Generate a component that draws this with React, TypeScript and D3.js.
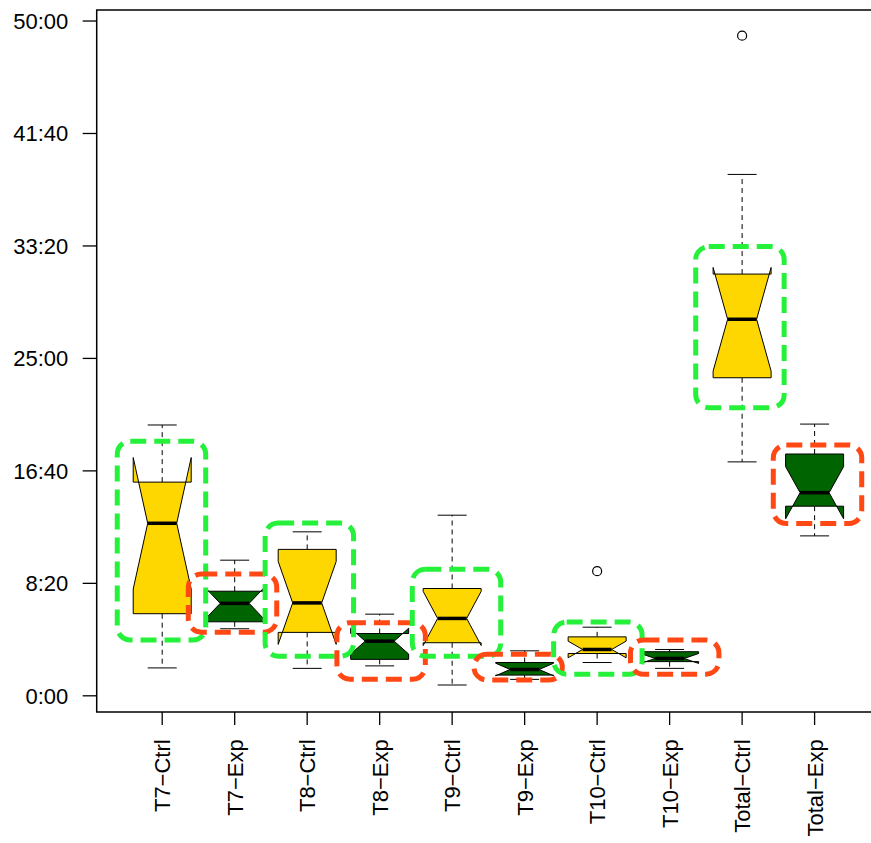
import React from "react";
import * as d3 from "d3";

// group names (R draws the hyphen as a minus sign)
const groups = ["T7−Ctrl", "T7−Exp", "T8−Ctrl", "T8−Exp", "T9−Ctrl", "T9−Exp", "T10−Ctrl", "T10−Exp", "Total−Ctrl", "Total−Exp"];

// five number summaries, in seconds
const whiskerLow = [124, 298, 122, 133, 48, 73, 148, 122, 1040, 711];
const q1 = [365, 329, 282, 162, 236, 92, 188, 152, 1414, 843];
const median = [767, 411, 413, 243, 344, 117, 206, 166, 1674, 903];
const q3 = [950, 465, 651, 277, 477, 148, 262, 196, 1875, 1075];
const whiskerHigh = [1204, 603, 729, 363, 803, 200, 305, 206, 2318, 1208];
const outliers = [[], [], [], [], [], [], [554], [], [2935], []];
const sampleSize = 10;

// dashed highlight frames (seconds, plus a small sideways nudge in group units)
const highlightHigh = [1132, 541, 768, 325, 563, 185, 328, 248, 1997, 1115];
const highlightLow = [248, 283, 176, 74, 176, 70, 96, 96, 1281, 766];
const highlightNudge = [-0.01, -0.03, 0.03, 0.02, 0.06, -0.09, 0.01, 0.07, -0.03, 0.04];

const yTicks = [0, 500, 1000, 1500, 2000, 2500, 3000];

const W = 871;
const H = 843;
const left = 96.7;
const top = 10;
const bottom = 712;

const fmt = (s: number) => `${Math.floor(s / 60)}:${d3.format("02d")(s % 60)}`;

export default function App() {
  const x = d3.scaleLinear().domain([1, groups.length]).range([162.2, 814.6]);
  const y = d3.scaleLinear().domain([-72, 3049]).range([bottom, top]);
  const step = x(2) - x(1);
  const boxHalf = 0.4 * step;
  const capHalf = boxHalf * 0.5;
  const hlHalf = 0.61 * step;
  const font = "'Liberation Sans', Arial, Helvetica, sans-serif";

  const boxes = groups.map((g, i) => {
    const cx = x(i + 1);
    const ctrl = g.endsWith("Ctrl");
    const iqr = q3[i] - q1[i];
    const half = (1.58 * iqr) / Math.sqrt(sampleSize);
    const confLo = median[i] - half;
    const confHi = median[i] + half;
    const xs = [-1, 1, 1, 0.5, 1, 1, -1, -1, -0.5, -1].map(f => cx + f * boxHalf);
    const ys = [q1[i], q1[i], confLo, median[i], confHi, q3[i], q3[i], confHi, median[i], confLo].map(v => y(v));
    const pts = xs.map((px, k) => `${px},${ys[k]}`).join(" ");
    return (
      <g key={g}>
        <line x1={cx} x2={cx} y1={y(q1[i])} y2={y(whiskerLow[i])} stroke="#000" strokeDasharray="5 4" />
        <line x1={cx} x2={cx} y1={y(q3[i])} y2={y(whiskerHigh[i])} stroke="#000" strokeDasharray="5 4" />
        <line x1={cx - capHalf} x2={cx + capHalf} y1={y(whiskerLow[i])} y2={y(whiskerLow[i])} stroke="#000" />
        <line x1={cx - capHalf} x2={cx + capHalf} y1={y(whiskerHigh[i])} y2={y(whiskerHigh[i])} stroke="#000" />
        <polygon points={pts} fill={ctrl ? "#FFD700" : "#006400"} stroke="#000" strokeWidth={1} />
        <line x1={cx - boxHalf * 0.5} x2={cx + boxHalf * 0.5} y1={y(median[i])} y2={y(median[i])} stroke="#000" strokeWidth={3.5} />
        {outliers[i].map((o, k) => (
          <circle key={k} cx={cx} cy={y(o)} r={4.5} fill="none" stroke="#000" strokeWidth={1.2} />
        ))}
      </g>
    );
  });

  const highlights = groups.map((g, i) => {
    const cx = x(i + 1 + highlightNudge[i]);
    const ctrl = g.endsWith("Ctrl");
    return (
      <rect
        key={g}
        x={cx - hlHalf}
        y={y(highlightHigh[i])}
        width={hlHalf * 2}
        height={y(highlightLow[i]) - y(highlightHigh[i])}
        rx={13}
        fill="none"
        stroke={ctrl ? "#25F03A" : "#FF4814"}
        strokeWidth={5}
        strokeDasharray="16 8"
      />
    );
  });

  return (
    <svg width={W} height={H} style={{ position: "absolute", left: 0, top: 0, background: "#fff" }}>
      <rect x={left} y={top} width={W + 20 - left} height={bottom - top} fill="none" stroke="#000" strokeWidth={1.5} />
      {yTicks.map(t => (
        <g key={t}>
          <line x1={left - 14} x2={left} y1={y(t)} y2={y(t)} stroke="#000" strokeWidth={1.3} />
          <text x={left - 28.4} y={y(t)} dy="0.36em" textAnchor="end" fontFamily={font} fontSize={22}>
            {fmt(t)}
          </text>
        </g>
      ))}
      {groups.map((g, i) => (
        <g key={g}>
          <line x1={x(i + 1)} x2={x(i + 1)} y1={bottom} y2={bottom + 13} stroke="#000" strokeWidth={1.3} />
          <text
            transform={`translate(${x(i + 1)},${bottom + 27.3}) rotate(-90)`}
            dy="0.36em"
            textAnchor="end"
            fontFamily={font}
            fontSize={22}
          >
            {g}
          </text>
        </g>
      ))}
      {boxes}
      {highlights}
    </svg>
  );
}
